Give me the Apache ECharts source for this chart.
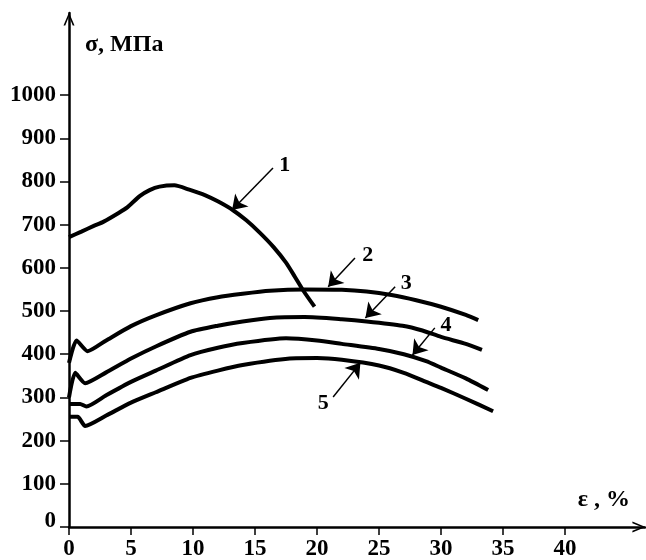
<!DOCTYPE html>
<html>
<head>
<meta charset="utf-8">
<script src="https://cdn.jsdelivr.net/npm/echarts@6/dist/echarts.min.js"></script>
<style>
html, body { margin: 0; padding: 0; background: #fff; }
#main { width: 646px; height: 560px; }
</style>
</head>
<body>
<div id="main"></div>
<script>
// tick labels
var xTicks = [0, 5, 10, 15, 20, 25, 30, 35, 40];
var yTicks = [0, 100, 200, 300, 400, 500, 600, 700, 800, 900, 1000];

// curves [strain %, stress MPa]
var curve1 = [[0, 671], [1, 684], [2, 697], [2.8, 707], [4, 727], [4.7, 740], [5.7, 766], [6.5, 780], [7.3, 788], [8.5, 791], [9.7, 781], [11, 768], [12, 754], [13.2, 734], [14.3, 710], [15.4, 681], [16.5, 648], [17.5, 612], [18.2, 580], [18.9, 547], [19.8, 510]];
var curve2 = [[0, 380], [0.6, 432], [1.5, 407], [3, 432], [5, 465], [7, 490], [9.8, 518], [12, 532], [14, 540], [16.2, 547], [19, 550], [22, 549], [24, 545], [26, 537], [28, 525], [30, 510], [32, 491], [33, 479]];
var curve3 = [[0, 300], [0.5, 357], [1.3, 333], [3, 358], [5, 390], [7, 418], [9.8, 452], [12, 466], [14, 476], [16.2, 484], [19, 486], [22, 481], [24, 476], [26.9, 466], [28.5, 455], [30, 440], [32, 424], [33.3, 410]];
var curve4 = [[0, 285], [0.9, 285], [1.4, 279], [3, 305], [5, 336], [7, 362], [9.8, 398], [12, 415], [14, 426], [17.5, 437], [20, 432], [22, 424], [25, 412], [27, 400], [28.8, 384], [30, 369], [32, 344], [33.8, 317]];
var curve5 = [[0, 255], [0.7, 255], [1.3, 234], [3, 258], [5, 288], [7, 312], [9.8, 345], [12, 362], [14, 375], [17.8, 390], [20, 391], [22, 387], [25, 374], [27, 357], [28.8, 336], [30, 322], [32, 297], [34.2, 268]];

// curve numbers and their pointer arrows
var curveNames = ['1', '2', '3', '4', '5'];
var labelPos = [[17.4, 838], [24.1, 630], [27.2, 564], [30.4, 468], [20.5, 286]];
var arrowFrom = [[16.45, 831], [23.06, 623], [26.3, 556], [29.5, 461], [21.3, 301]];
var arrowTo = [[13.15, 734], [20.9, 556], [23.9, 484], [27.7, 398], [23.5, 380]];

var font = 'Liberation Serif';
var chevron = 'path://M0,12 L5,0 L10,12 L8.4,12 L5,3.6 L1.6,12 Z';

var chart = echarts.init(document.getElementById('main'));

var curves = [curve1, curve2, curve3, curve4, curve5];
var series = curves.map(function (c) {
    return {
        type: 'line',
        data: c,
        showSymbol: false,
        smooth: 0.2,
        lineStyle: { color: '#000', width: 4 },
        silent: true
    };
});

series.push({
    type: 'lines',
    coordinateSystem: 'cartesian2d',
    symbol: ['none', 'arrow'],
    symbolSize: [10, 14],
    lineStyle: { color: '#000', width: 1.5, opacity: 1 },
    data: arrowFrom.map(function (p, i) {
        return { coords: [p, arrowTo[i]] };
    }),
    silent: true
});

series.push({
    type: 'scatter',
    symbolSize: 0,
    itemStyle: { color: '#000', opacity: 1 },
    data: labelPos.map(function (p, i) {
        return { value: p, name: curveNames[i] };
    }),
    label: {
        show: true,
        position: 'inside',
        formatter: '{b}',
        color: '#000',
        fontFamily: font,
        fontWeight: 'bold',
        fontSize: 22
    },
    silent: true
});

var option = {
    animation: false,
    backgroundColor: '#fff',
    grid: { left: 69, right: 1, top: 13, bottom: 33, outerBoundsMode: 'none' },
    xAxis: {
        type: 'value',
        min: 0,
        max: 46.45,
        splitLine: { show: false },
        name: 'ε , %',
        nameLocation: 'end',
        nameGap: -15,
        nameTextStyle: {
            color: '#000', fontFamily: font, fontWeight: 'bold', fontSize: 24,
            align: 'right', verticalAlign: 'bottom', padding: [0, 0, 15, 0]
        },
        axisLine: {
            lineStyle: { color: '#000', width: 2.5 },
            symbol: ['none', chevron],
            symbolSize: [11, 14],
            symbolOffset: [0, -6]
        },
        axisTick: {
            inside: false, length: 8,
            lineStyle: { color: '#000', width: 1.5 },
            customValues: xTicks
        },
        axisLabel: {
            color: '#000', fontFamily: font, fontWeight: 'bold', fontSize: 23,
            margin: 11,
            customValues: xTicks
        }
    },
    yAxis: {
        type: 'value',
        min: 0,
        max: 1190,
        splitLine: { show: false },
        name: 'σ, МПа',
        nameLocation: 'end',
        nameGap: -32,
        nameTextStyle: {
            color: '#000', fontFamily: font, fontWeight: 'bold', fontSize: 24,
            align: 'left', verticalAlign: 'middle', padding: [0, 0, 0, 16]
        },
        axisLine: {
            lineStyle: { color: '#000', width: 2.5 },
            symbol: ['none', chevron],
            symbolSize: [11, 14],
            symbolOffset: [0, -6]
        },
        axisTick: {
            inside: false, length: 9,
            lineStyle: { color: '#000', width: 1.5 },
            customValues: yTicks
        },
        axisLabel: {
            color: '#000', fontFamily: font, fontWeight: 'bold', fontSize: 23,
            margin: 13,
            customValues: yTicks,
            formatter: function (v) {
                return v === 0 ? '{z|0}' : String(v);
            },
            rich: {
                z: { fontFamily: font, fontWeight: 'bold', fontSize: 23, color: '#000', padding: [0, 0, 12, 0] }
            }
        }
    },
    series: series
};

chart.setOption(option);
</script>
</body>
</html>
